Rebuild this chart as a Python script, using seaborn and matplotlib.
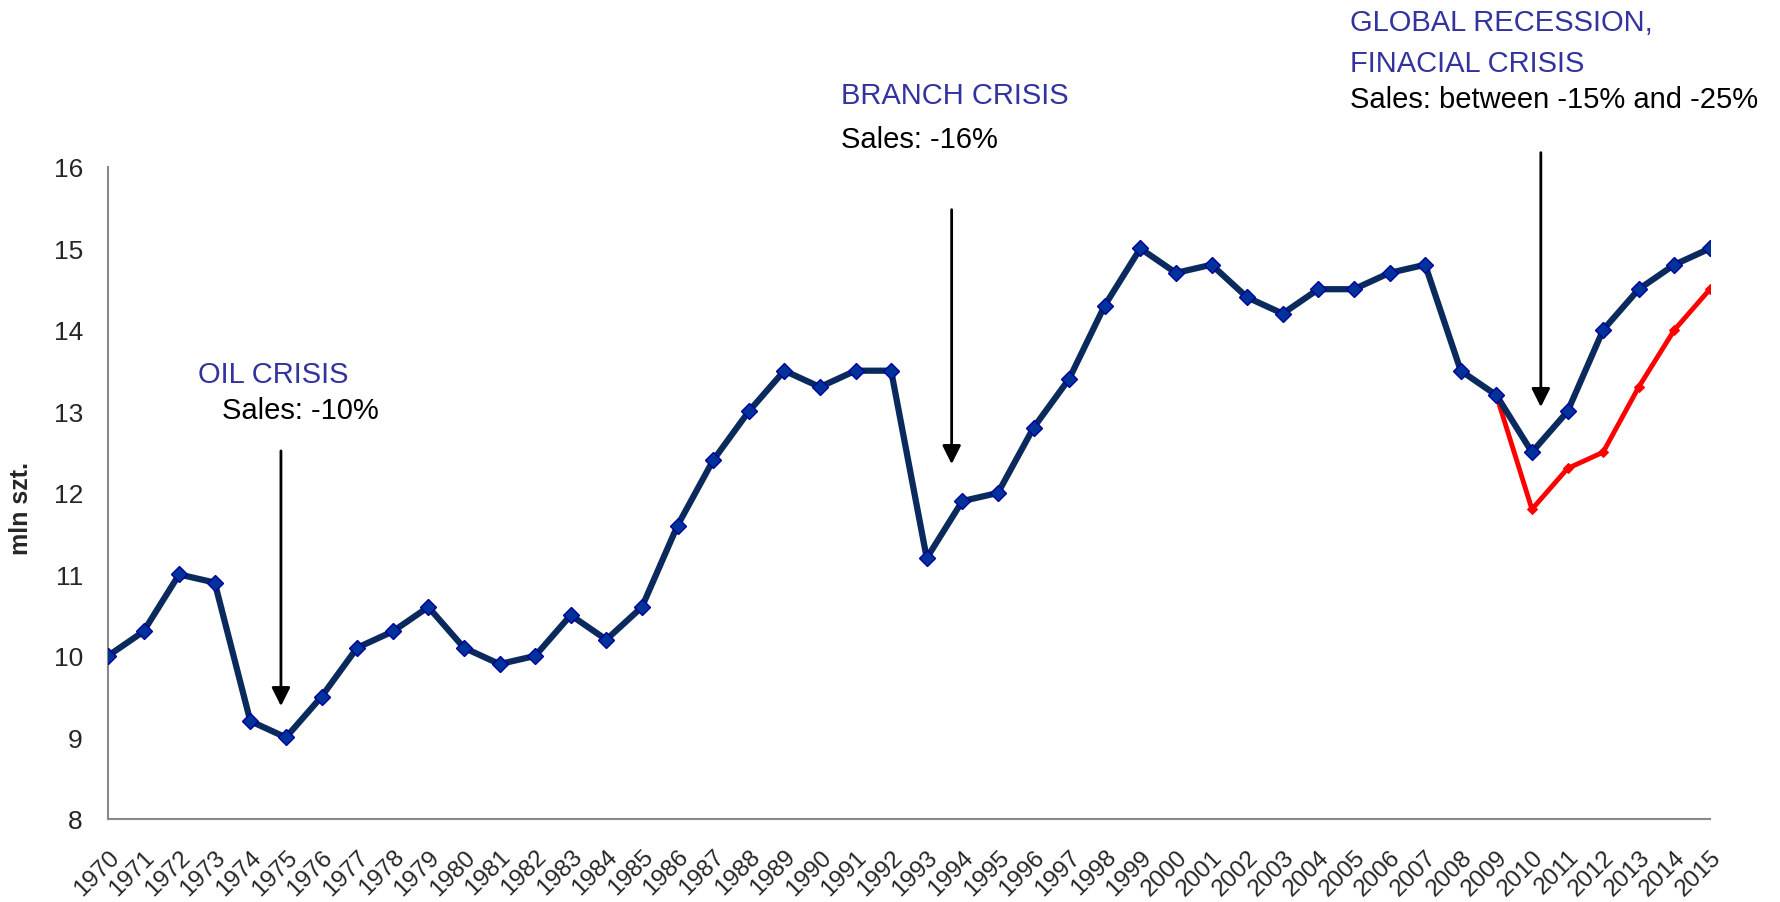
import pandas as pd
import matplotlib.pyplot as plt
import seaborn as sns

# yearly sales, mln units
years = list(range(1970, 2016))
sales = [10.0, 10.3, 11.0, 10.9, 9.2, 9.0, 9.5, 10.1, 10.3, 10.6,
         10.1, 9.9, 10.0, 10.5, 10.2, 10.6, 11.6, 12.4, 13.0, 13.5,
         13.3, 13.5, 13.5, 11.2, 11.9, 12.0, 12.8, 13.4, 14.3, 15.0,
         14.7, 14.8, 14.4, 14.2, 14.5, 14.5, 14.7, 14.8, 13.5, 13.2,
         12.5, 13.0, 14.0, 14.5, 14.8, 15.0]
# alternative (pessimistic) path after 2009
alt_years = [2009, 2010, 2011, 2012, 2013, 2014, 2015]
alt_sales = [13.2, 11.8, 12.3, 12.5, 13.3, 14.0, 14.5]

main = pd.DataFrame({'year': years, 'sales': sales})
alt = pd.DataFrame({'year': alt_years, 'sales': alt_sales})

sns.set_style('white')
plt.rcParams['font.family'] = ['Liberation Sans', 'DejaVu Sans']

fig = plt.figure(figsize=(17.81, 9.03), dpi=100)
ax = fig.add_axes([0.0606, 0.092, 0.8995, 0.722])

sns.lineplot(data=alt, x='year', y='sales', ax=ax, color='#FF0000', lw=3.5,
             marker='D', markersize=5, markeredgecolor='#FF0000', zorder=2)
sns.lineplot(data=main, x='year', y='sales', ax=ax, color='#0A2A5E', lw=4.5,
             marker='D', markersize=8.5, markerfacecolor='#003399',
             markeredgecolor='#0000A0', markeredgewidth=1, zorder=3)

ax.set_xlim(1970, 2015)
ax.set_ylim(8, 16)
ax.set_xticks(years)
ax.set_xticklabels([str(y) for y in years], rotation=45, ha='right',
                   rotation_mode='anchor', fontsize=17.5)
ax.set_yticks(range(8, 17))
ax.tick_params(axis='y', labelsize=19, length=5, color='#888888', pad=13)
ax.tick_params(axis='x', length=5, color='#888888', pad=14)
ax.set_xlabel('')
ax.set_ylabel('mln szt.', fontsize=18, fontweight='bold')
ax.yaxis.set_label_coords(-0.047, 0.477)
for s in ['top', 'right']:
    ax.spines[s].set_visible(False)
for s in ['left', 'bottom']:
    ax.spines[s].set_color('#888888')
    ax.spines[s].set_linewidth(1.5)

blue = '#33339F'
arrow = dict(arrowstyle='-|>', color='black', lw=2, mutation_scale=28)

# oil crisis
ax.annotate('', xy=(1974.86, 9.35), xytext=(1974.86, 12.55), arrowprops=arrow,
            annotation_clip=False)
ax.text(1972.53, 13.46, 'OIL CRISIS', color=blue, fontsize=21, va='center')
ax.text(1973.2, 13.02, 'Sales: -10%', color='black', fontsize=21, va='center')

# branch crisis
ax.annotate('', xy=(1993.7, 12.32), xytext=(1993.7, 15.51), arrowprops=arrow,
            annotation_clip=False)
ax.text(1990.6, 16.88, 'BRANCH CRISIS', color=blue, fontsize=21, va='center',
        clip_on=False)
ax.text(1990.6, 16.34, 'Sales: -16%', color='black', fontsize=21, va='center',
        clip_on=False)

# global recession
ax.annotate('', xy=(2010.25, 13.02), xytext=(2010.25, 16.21), arrowprops=arrow,
            annotation_clip=False)
ax.text(2004.9, 17.78, 'GLOBAL RECESSION,', color=blue, fontsize=21,
        va='center', clip_on=False)
ax.text(2004.9, 17.27, 'FINACIAL CRISIS', color=blue, fontsize=21,
        va='center', clip_on=False)
ax.text(2004.9, 16.83, 'Sales: between -15% and -25%', color='black',
        fontsize=21, va='center', clip_on=False)

fig.savefig('out.png', dpi=100)
